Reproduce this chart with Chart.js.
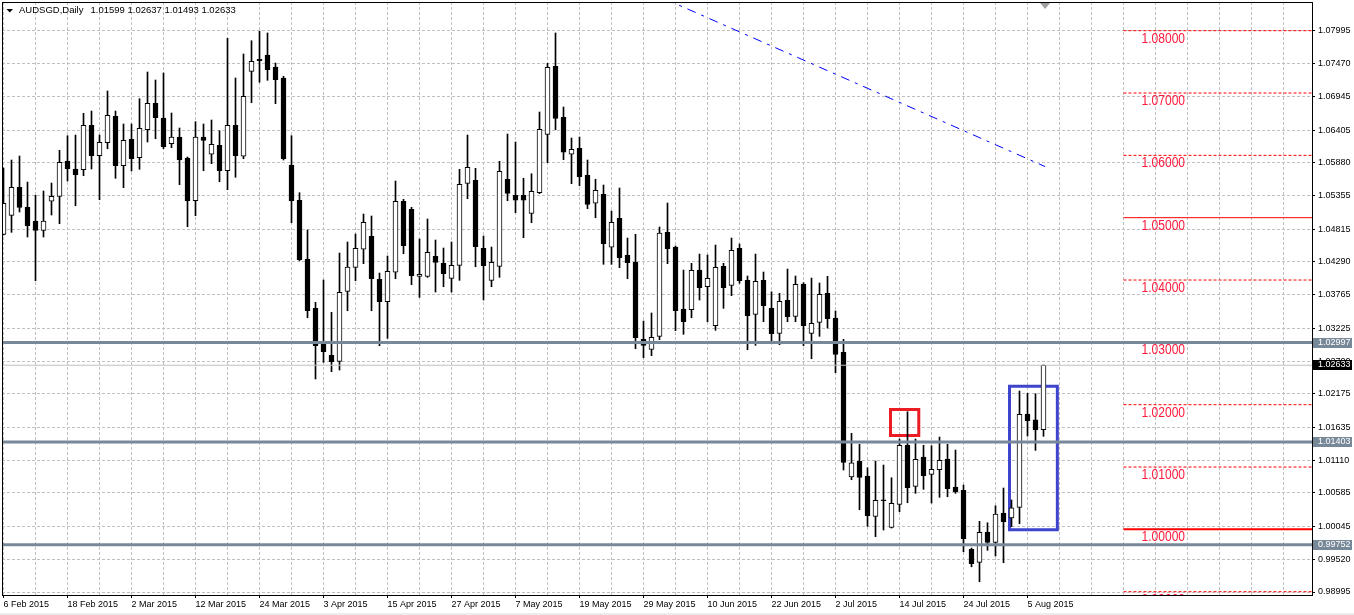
<!DOCTYPE html>
<html><head><meta charset="utf-8">
<script src="https://cdn.jsdelivr.net/npm/chart.js@4.4.1/dist/chart.umd.min.js"></script>
<style>html,body{margin:0;padding:0;background:#fff;overflow:hidden}canvas{display:block}</style>
</head><body>
<canvas id="c" width="1354" height="615"></canvas>
<script>
// ---------------- data ----------------
const symbolTitle = 'AUDSGD,Daily';
const dateTickLabels = ['6 Feb 2015','18 Feb 2015','2 Mar 2015','12 Mar 2015','24 Mar 2015','3 Apr 2015','15 Apr 2015','27 Apr 2015','7 May 2015','19 May 2015','29 May 2015','10 Jun 2015','22 Jun 2015','2 Jul 2015','14 Jul 2015','24 Jul 2015','5 Aug 2015'];

const openP = [1.04733,1.05038,1.05487,1.05166,1.04946,1.04797,1.05263,1.05343,1.05909,1.05781,
1.05769,1.06482,1.05994,1.06203,1.06626,1.05834,1.06257,1.05962,1.06411,1.06835,
1.06599,1.06187,1.06294,1.05957,1.05272,1.06294,1.06017,1.06161,1.05754,1.06482,
1.05985,1.07348,1.07541,1.07610,1.07417,1.07241,1.05845,1.05279,1.04337,1.03546,
1.02984,1.02792,1.02696,1.03819,1.04204,1.04493,1.04701,1.04011,1.03652,1.04124,
1.05263,1.05134,1.04059,1.04059,1.04380,1.04268,1.04027,1.04236,1.05551,1.05599,
1.04509,1.03995,1.04220,1.05616,1.05359,1.05359,1.05070,1.05401,1.06337,1.07428,
1.06610,1.06017,1.06113,1.05680,1.05231,1.05375,1.04525,1.04990,1.04396,1.04284,
1.03049,1.02888,1.03097,1.04765,1.04529,1.03535,1.03524,1.04160,1.03892,1.03267,
1.04220,1.03915,1.04509,1.03995,1.03450,1.03995,1.03551,1.03145,1.03674,1.03418,
1.03936,1.03145,1.03321,1.03787,1.03390,1.02840,1.00840,1.01091,1.00856,1.00209,
1.00475,1.00033,1.00402,1.01348,1.00690,1.01160,1.00883,1.00957,1.01128,1.00679,
1.00626,0.99680,0.99471,0.99957,0.99792,1.00262,1.00182,1.00353,1.01850,1.01759,
1.01599];
const highP = [1.05797,1.05925,1.05989,1.05572,1.05359,1.05428,1.05556,1.06081,1.06315,1.06326,
1.06674,1.06711,1.06326,1.07032,1.06711,1.06503,1.06503,1.06909,1.07337,1.07209,
1.07321,1.06679,1.06439,1.05973,1.06540,1.06503,1.06567,1.06395,1.07878,1.07241,
1.07626,1.07839,1.07990,1.07963,1.07481,1.07268,1.06315,1.05401,1.04802,1.03642,
1.04000,1.03482,1.04433,1.04610,1.04738,1.05059,1.05027,1.04112,1.04385,1.05588,
1.05295,1.05166,1.04658,1.04979,1.04642,1.04513,1.04610,1.05776,1.06326,1.05792,
1.04706,1.04529,1.05904,1.06342,1.06214,1.05632,1.05705,1.06695,1.07477,1.07963,
1.06775,1.06278,1.06294,1.05925,1.05616,1.05524,1.05107,1.05476,1.04674,1.04733,
1.03342,1.03471,1.04850,1.05235,1.04546,1.04160,1.04268,1.04417,1.04401,1.04561,
1.04268,1.04674,1.04578,1.04064,1.04417,1.04128,1.03812,1.03787,1.04176,1.04064,
1.03957,1.04032,1.03952,1.04059,1.03503,1.03049,1.01541,1.01364,1.00989,1.01096,
1.01032,1.00828,1.01449,1.01887,1.01449,1.01348,1.01342,1.01481,1.01364,1.01273,
1.00711,0.99701,1.00129,1.00106,1.00379,1.00663,1.00471,1.02219,1.02182,1.02176,
1.02637];
const lowP = [1.04722,1.04765,1.05091,1.04690,1.03989,1.04690,1.05043,1.04903,1.05588,1.05192,
1.05673,1.05781,1.05288,1.06106,1.05632,1.05481,1.05749,1.05776,1.06214,1.06267,
1.06106,1.06122,1.05529,1.04855,1.05032,1.05754,1.05866,1.05577,1.05449,1.05648,
1.05946,1.06844,1.07172,1.07204,1.06828,1.05925,1.04919,1.04310,1.03395,1.02412,
1.02680,1.02529,1.02556,1.03507,1.03989,1.04262,1.03507,1.02946,1.03065,1.04021,
1.04422,1.03925,1.03722,1.04043,1.03807,1.03892,1.03807,1.03995,1.05304,1.04213,
1.03679,1.03892,1.04043,1.05272,1.05080,1.04679,1.04919,1.05385,1.05882,1.06411,
1.05930,1.05545,1.05513,1.05144,1.04999,1.04252,1.04252,1.04197,1.04021,1.02898,
1.02753,1.02786,1.03042,1.04262,1.03187,1.03129,1.03395,1.03679,1.03331,1.03193,
1.03546,1.03748,1.03947,1.02882,1.02952,1.03331,1.03021,1.02962,1.03331,1.03331,
1.02946,1.02737,1.03097,1.03230,1.02513,1.00952,1.00796,1.00315,1.00049,0.99882,
0.99989,1.00021,1.00283,1.00427,1.00578,1.00642,1.00422,1.00514,1.00523,1.00578,
0.99641,0.99400,0.99160,0.99664,0.99572,0.99465,1.00042,1.00090,1.01497,1.01267,
1.01493];
const closeP = [1.05231,1.05487,1.05166,1.04871,1.04797,1.04946,1.05343,1.05888,1.05786,1.05689,
1.06482,1.05994,1.06209,1.06642,1.05834,1.06241,1.05946,1.06434,1.06835,1.06604,
1.06139,1.06294,1.05930,1.05272,1.06294,1.06241,1.06177,1.05754,1.06482,1.05994,
1.06947,1.07509,1.07518,1.07374,1.07213,1.05946,1.05272,1.04326,1.03507,1.02946,
1.02850,1.02689,1.03803,1.04209,1.04509,1.04926,1.04021,1.03652,1.04140,1.05263,
1.04550,1.04069,1.04091,1.04444,1.04284,1.04101,1.04236,1.05535,1.05808,1.04534,
1.04229,1.04284,1.05744,1.05391,1.05279,1.05279,1.05423,1.06418,1.07412,1.06594,
1.06049,1.06097,1.05657,1.05214,1.05439,1.04582,1.04926,1.04358,1.04278,1.03074,
1.02952,1.03081,1.04754,1.04502,1.03507,1.03331,1.04156,1.03876,1.04027,1.04204,
1.03876,1.04476,1.03989,1.03427,1.03979,1.03588,1.03139,1.03658,1.03411,1.03931,
1.03267,1.03305,1.03771,1.03379,1.02808,1.01075,1.01069,1.00835,1.00219,1.00466,
1.00459,1.00418,1.01348,1.00668,1.01123,1.00860,1.00963,1.01107,1.00652,1.00604,
0.99850,0.99449,0.99952,0.99791,1.00246,1.00122,1.00347,1.01845,1.01743,1.01596,
1.02633];

const priceTicks = [1.07995,1.07470,1.06945,1.06405,1.05880,1.05355,1.04815,1.04290,1.03765,1.03225,1.02700,1.02175,1.01635,1.01110,1.00585,1.00045,0.99520,0.98995];
const keyLevels = [1.02997, 1.01403, 0.99752];
const roundLevels = [1.08, 1.07, 1.06, 1.05, 1.04, 1.03, 1.02, 1.01, 1.00, 0.99];
const solidRoundLevels = [1.05, 1.00];
const bidPrice = 1.02633;
const roundLevelStart = 140;            // bar index where round-number levels begin
const trendX = [80, 130.2];
const trendY = [1.0866, 1.0582];
const redBoxX = [110.875, 114.41];
const redBoxY = [1.01922, 1.01505];
const blueBoxX = [125.75, 131.73];
const blueBoxY = [1.02296, 0.99994];

// ---------------- chart ----------------
const X_MIN = -0.1875, X_MAX = 163.5625;
const Y_MIN = 0.98947, Y_MAX = 1.08460;
const BARS_PER_LABEL = 8, BARS_PER_GRID = 4;
const FONT = '"Liberation Sans", Arial, sans-serif';

const idx = openP.map((_, i) => i);
const wickData = idx.map(i => ({x: i, y: [lowP[i], highP[i]]}));
const bodyData = idx.map(i => ({x: i, y: [openP[i], closeP[i]]}));
const bodyFill = idx.map(i => closeP[i] >= openP[i] ? '#ffffff' : '#000000');

const gridTicks = [];
for (let v = 0; v <= X_MAX; v += BARS_PER_GRID) gridTicks.push(v);
function isLabelTick(v) { return v % BARS_PER_LABEL === 0 && v / BARS_PER_LABEL < dateTickLabels.length; }
function hLine(v, x0, x1) { return [{x: x0, y: v}, {x: x1, y: v}]; }
function rectPts(xs, ys) {
  return [{x: xs[0], y: ys[0]}, {x: xs[1], y: ys[0]}, {x: xs[1], y: ys[1]}, {x: xs[0], y: ys[1]}, {x: xs[0], y: ys[0]}];
}
function zeroPad(s) { s.paddingTop = 0; s.paddingBottom = 0; s.paddingLeft = 0; s.paddingRight = 0; }
const lineBase = {type: 'line', pointRadius: 0, pointHoverRadius: 0, fill: false, tension: 0};

const datasets = [];
keyLevels.forEach(v => datasets.push(Object.assign({}, lineBase, {
  data: hLine(v, X_MIN - 2, X_MAX + 2), borderColor: '#778899', borderWidth: 3, order: 0})));
datasets.push(Object.assign({}, lineBase, {
  data: hLine(bidPrice, X_MIN - 2, X_MAX + 2), borderColor: '#c0c0c0', borderWidth: 1, order: 0.5}));
roundLevels.forEach(v => {
  const solid = solidRoundLevels.includes(v);
  datasets.push(Object.assign({}, lineBase, {
    data: hLine(v, roundLevelStart, X_MAX + 2), borderColor: '#ff0000',
    borderWidth: (v === 1.00 ? 2 : 1), borderDash: solid ? [] : [3, 2], order: 1}));
});
datasets.push(Object.assign({}, lineBase, {
  data: [{x: trendX[0], y: trendY[0]}, {x: trendX[1], y: trendY[1]}],
  borderColor: '#0000ff', borderWidth: 1, borderDash: [9, 6, 3, 6], order: 1}));
datasets.push({type: 'bar', data: bodyData, backgroundColor: bodyFill, borderColor: '#000000',
  borderWidth: 1, borderSkipped: false, barThickness: 5, maxBarThickness: 5, minBarLength: 1,
  grouped: false, clip: 0, order: 2});
datasets.push({type: 'bar', data: wickData, backgroundColor: '#000000', borderWidth: 0,
  barThickness: 1, maxBarThickness: 1, grouped: false, clip: 0, order: 3});
datasets.push(Object.assign({}, lineBase, {data: rectPts(redBoxX, redBoxY), borderColor: '#ec1c24',
  borderWidth: 3, borderJoinStyle: 'miter', borderCapStyle: 'square', order: 4}));
datasets.push(Object.assign({}, lineBase, {data: rectPts(blueBoxX, blueBoxY), borderColor: '#3f44cc',
  borderWidth: 3, borderJoinStyle: 'miter', borderCapStyle: 'square', order: 4}));

const decor = {
  id: 'decor',
  beforeDraw(chart) {
    const {ctx, width, height} = chart;
    ctx.save();
    ctx.fillStyle = '#ffffff'; ctx.fillRect(0, 0, width, height);
    ctx.fillStyle = '#ececec'; ctx.fillRect(0, height - 2, width, 2);
    ctx.restore();
  },
  afterDatasetsDraw(chart) {
    const {ctx, chartArea: a} = chart;
    const xs = chart.scales.x, ys = chart.scales.y;
    // round level labels
    ctx.save();
    ctx.beginPath(); ctx.rect(a.left, a.top, a.right - a.left, a.bottom - a.top); ctx.clip();
    ctx.fillStyle = '#ff1a3c'; ctx.font = '14px ' + FONT; ctx.textBaseline = 'middle'; ctx.textAlign = 'left';
    const lx = xs.getPixelForValue(roundLevelStart) + 18;
    roundLevels.forEach(v => {
      const py = ys.getPixelForValue(v) + 8;
      ctx.save(); ctx.translate(lx, py); ctx.scale(0.86, 1); ctx.fillText(v.toFixed(5), 0, 0); ctx.restore();
    });
    // shift marker
    const sx = xs.getPixelForValue(openP.length - 1 + 0.2);
    ctx.fillStyle = '#a0a0a0';
    ctx.beginPath(); ctx.moveTo(sx - 5, a.top + 1); ctx.lineTo(sx + 5, a.top + 1); ctx.lineTo(sx, a.top + 7); ctx.closePath(); ctx.fill();
    ctx.restore();

    // frame
    ctx.save();
    ctx.strokeStyle = '#000'; ctx.lineWidth = 1;
    ctx.strokeRect(a.left + 0.5, a.top + 0.5, a.right - a.left, a.bottom - a.top);
    ctx.restore();

    // header
    ctx.save();
    ctx.fillStyle = '#000';
    ctx.beginPath(); ctx.moveTo(6.5, 9); ctx.lineTo(13, 9); ctx.lineTo(9.75, 12.5); ctx.closePath(); ctx.fill();
    ctx.font = '9.5px ' + FONT; ctx.textBaseline = 'middle'; ctx.textAlign = 'left';
    ctx.fillText(symbolTitle, 19, 10.5);
    const L = openP.length - 1;
    ctx.fillText([openP[L], highP[L], lowP[L], closeP[L]].map(v => v.toFixed(5)).join(' '), 90.5, 10.5);
    ctx.restore();

    // price tags on the axis
    ctx.save();
    ctx.font = '9px ' + FONT; ctx.textBaseline = 'middle'; ctx.textAlign = 'left';
    const tags = keyLevels.map(v => ({v, bg: '#778899'})).concat([{v: bidPrice, bg: '#000000'}]);
    tags.forEach(t => {
      const py = Math.round(ys.getPixelForValue(t.v));
      ctx.fillStyle = t.bg; ctx.fillRect(a.right + 1, py - 5, 39, 10);
      ctx.fillStyle = '#ffffff'; ctx.fillText(t.v.toFixed(5), a.right + 6, py);
    });
    ctx.restore();
  }
};

new Chart(document.getElementById('c'), {
  type: 'bar',
  data: {datasets},
  plugins: [decor],
  options: {
    responsive: false, animation: false, events: [],
    layout: {padding: {left: 2, top: 2, right: 0, bottom: 0}},
    plugins: {legend: {display: false}, tooltip: {enabled: false}, title: {display: false}},
    scales: {
      x: {
        type: 'linear', min: X_MIN, max: X_MAX, offset: false, position: 'bottom',
        afterFit: s => { s.height = 20; zeroPad(s); },
        afterBuildTicks: s => { s.ticks = gridTicks.map(v => ({value: v})); },
        grid: {offset: false, color: '#c0c0c0', lineWidth: 1, drawTicks: true, tickLength: 3,
          tickColor: c => (c.tick && isLabelTick(c.tick.value)) ? '#000000' : 'rgba(0,0,0,0)'},
        border: {display: true, color: '#000', width: 1, dash: [3, 2]},
        ticks: {autoSkip: false, maxRotation: 0, minRotation: 0, align: 'start', padding: 1, color: '#000',
          font: {family: FONT, size: 9},
          callback: v => isLabelTick(v) ? dateTickLabels[v / BARS_PER_LABEL] : ''}
      },
      y: {
        type: 'linear', position: 'right', min: Y_MIN, max: Y_MAX,
        afterFit: s => { s.width = 42; zeroPad(s); },
        afterBuildTicks: s => { s.ticks = priceTicks.map(v => ({value: v})); },
        grid: {color: '#c0c0c0', lineWidth: 1, tickLength: 3, tickColor: '#000'},
        border: {display: true, color: '#000', width: 1, dash: [3, 2]},
        ticks: {autoSkip: false, padding: 3, color: '#000', font: {family: FONT, size: 9},
          callback: v => Number(v).toFixed(5)}
      }
    }
  }
});
</script>
</body></html>
